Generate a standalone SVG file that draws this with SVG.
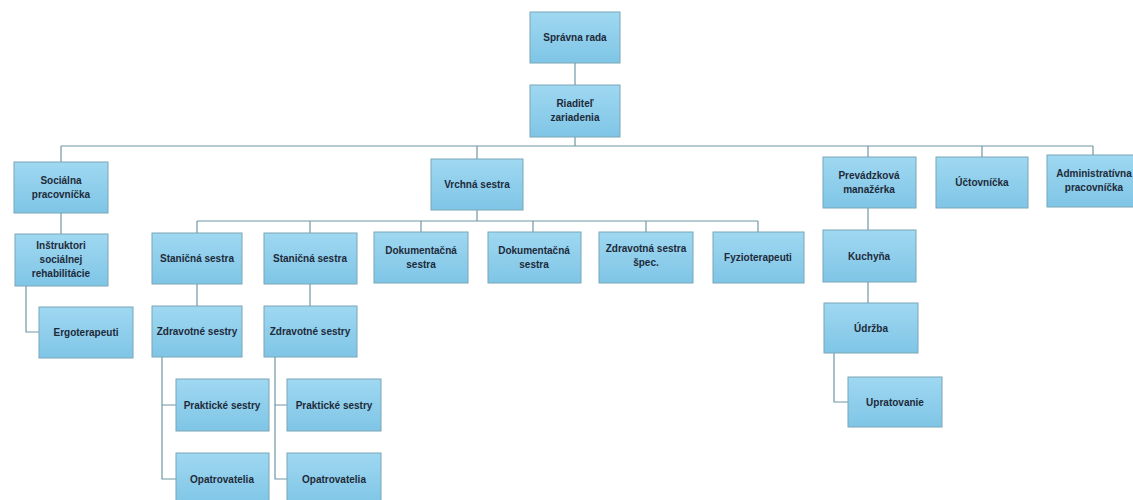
<svg xmlns="http://www.w3.org/2000/svg" width="1133" height="500" viewBox="0 0 1133 500">
<defs>
<linearGradient id="g" x1="0" y1="0" x2="0" y2="1">
<stop offset="0" stop-color="#9fd8f1"/>
<stop offset="1" stop-color="#7fc5e6"/>
</linearGradient>
<style>
.n rect{fill:url(#g);stroke:#7aa6b8;stroke-width:1}
.n text{font-family:"Liberation Sans Narrow","Liberation Sans",sans-serif;font-size:10px;font-weight:bold;fill:#1e2a3a;text-anchor:middle}
#connectors path{fill:none;stroke:#6f97a4;stroke-width:1.2}
</style>
</defs>
<rect width="1133" height="500" fill="#ffffff"/>
<g id="connectors">
<path d="M575 63V85"/>
<path d="M575 137V146"/>
<path d="M61 146H1093"/>
<path d="M61 146V162"/>
<path d="M477 146V159"/>
<path d="M868 146V157"/>
<path d="M982 146V157"/>
<path d="M1093 146V155"/>
<path d="M61 213V234"/>
<path d="M26 286V332H39"/>
<path d="M477 210V221"/>
<path d="M197 221H758"/>
<path d="M197 221V233"/>
<path d="M310 221V233"/>
<path d="M421 221V232"/>
<path d="M533 221V232"/>
<path d="M646 221V232"/>
<path d="M758 221V232"/>
<path d="M197 284V306"/>
<path d="M310 284V306"/>
<path d="M162 357V405H176M162 405V479H176"/>
<path d="M275 357V405H287M275 405V479H287"/>
<path d="M868 208V230"/>
<path d="M868 282V303"/>
<path d="M834 353V402H848"/>
</g>
<g id="spravna-rada" class="n"><rect x="530" y="12" width="90" height="51"/><text x="575" y="41">Správna rada</text></g>
<g id="riaditel" class="n"><rect x="530" y="85" width="90" height="52"/><text x="575" y="107">Riaditeľ</text><text x="575" y="121">zariadenia</text></g>
<g id="socialna" class="n"><rect x="14" y="162" width="94" height="51"/><text x="61" y="184">Sociálna</text><text x="61" y="198">pracovníčka</text></g>
<g id="instruktori" class="n"><rect x="15" y="234" width="93" height="52"/><text x="61" y="249">Inštruktori</text><text x="61" y="263">sociálnej</text><text x="61" y="277">rehabilitácie</text></g>
<g id="ergoterapeuti" class="n"><rect x="39" y="307" width="94" height="51"/><text x="86" y="336">Ergoterapeuti</text></g>
<g id="vrchna" class="n"><rect x="431" y="159" width="92" height="51"/><text x="477" y="188">Vrchná sestra</text></g>
<g id="stanicna1" class="n"><rect x="152" y="233" width="90" height="51"/><text x="197" y="262">Staničná sestra</text></g>
<g id="stanicna2" class="n"><rect x="264" y="233" width="93" height="51"/><text x="310" y="262">Staničná sestra</text></g>
<g id="zdravotne1" class="n"><rect x="152" y="306" width="90" height="51"/><text x="197" y="335">Zdravotné sestry</text></g>
<g id="zdravotne2" class="n"><rect x="264" y="306" width="93" height="51"/><text x="310" y="335">Zdravotné sestry</text></g>
<g id="prakticke1" class="n"><rect x="176" y="379" width="93" height="52"/><text x="222" y="409">Praktické sestry</text></g>
<g id="prakticke2" class="n"><rect x="287" y="379" width="94" height="52"/><text x="334" y="409">Praktické sestry</text></g>
<g id="opatrovatelia1" class="n"><rect x="176" y="453" width="93" height="52"/><text x="222" y="483">Opatrovatelia</text></g>
<g id="opatrovatelia2" class="n"><rect x="287" y="453" width="94" height="52"/><text x="334" y="483">Opatrovatelia</text></g>
<g id="dokumentacna1" class="n"><rect x="374" y="232" width="94" height="51"/><text x="421" y="254">Dokumentačná</text><text x="421" y="268">sestra</text></g>
<g id="dokumentacna2" class="n"><rect x="488" y="232" width="93" height="51"/><text x="534" y="254">Dokumentačná</text><text x="534" y="268">sestra</text></g>
<g id="zdravotna-spec" class="n"><rect x="599" y="232" width="94" height="51"/><text x="646" y="252">Zdravotná sestra</text><text x="646" y="266">špec.</text></g>
<g id="fyzioterapeuti" class="n"><rect x="713" y="232" width="91" height="51"/><text x="758" y="261">Fyzioterapeuti</text></g>
<g id="prevadzkova" class="n"><rect x="823" y="157" width="93" height="51"/><text x="869" y="179">Prevádzková</text><text x="869" y="193">manažérka</text></g>
<g id="uctovnicka" class="n"><rect x="936" y="157" width="92" height="51"/><text x="982" y="186">Účtovníčka</text></g>
<g id="administrativna" class="n"><rect x="1047" y="155" width="94" height="52"/><text x="1094" y="177">Administratívna</text><text x="1094" y="191">pracovníčka</text></g>
<g id="kuchyna" class="n"><rect x="823" y="230" width="93" height="52"/><text x="869" y="260">Kuchyňa</text></g>
<g id="udrzba" class="n"><rect x="824" y="303" width="94" height="50"/><text x="871" y="332">Údržba</text></g>
<g id="upratovanie" class="n"><rect x="848" y="377" width="94" height="50"/><text x="895" y="406">Upratovanie</text></g>
</svg>
